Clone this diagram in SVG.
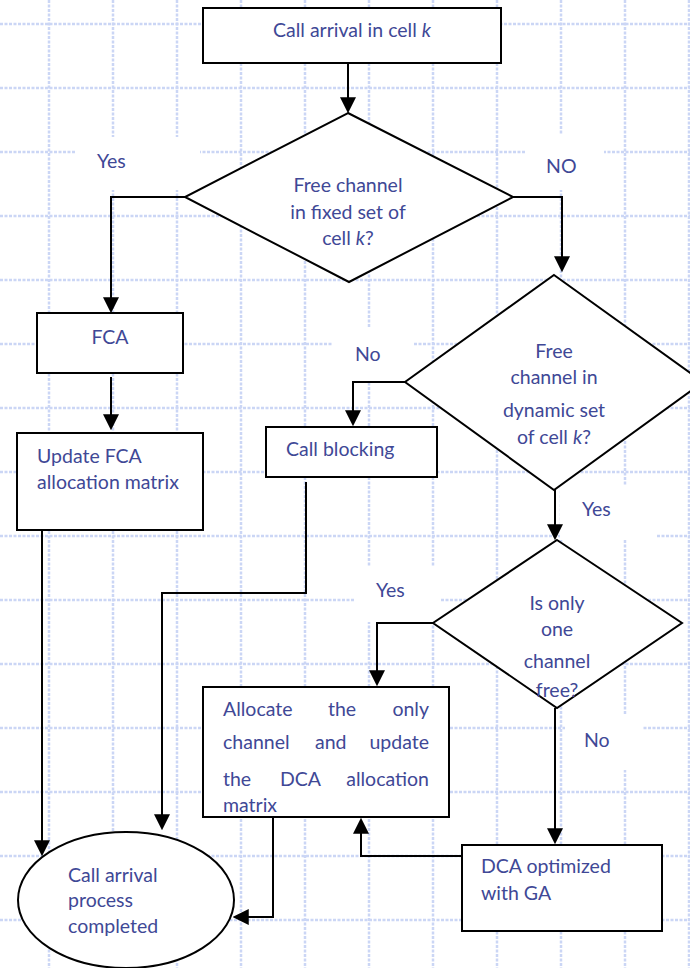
<svg xmlns="http://www.w3.org/2000/svg" width="690" height="968" viewBox="0 0 690 968">
<style>
.grid line{stroke:#cbd6f5;stroke-width:2.5;stroke-dasharray:3 1.5}
.bg{fill:#fff;stroke:none}
.shape{fill:#fff;stroke:#000;stroke-width:2}
.conn{fill:none;stroke:#000;stroke-width:2}
text{font-family:Lato,"Open Sans","Liberation Sans",sans-serif;font-size:19.5px;fill:#404896}
.c{text-anchor:middle}
.i{font-style:italic}
</style>
<defs>
<marker id="ah" markerUnits="userSpaceOnUse" markerWidth="16" markerHeight="16" viewBox="0 0 15 15" refX="11" refY="7.5" orient="auto">
<path d="M0,0 L15,7.5 L0,15 Z" fill="#000"/>
</marker>
</defs>
<rect width="690" height="968" fill="#fff"/>
<g class="grid">
<line x1="49" y1="0" x2="49" y2="968"/><line x1="113" y1="0" x2="113" y2="968"/><line x1="177" y1="0" x2="177" y2="968"/><line x1="241" y1="0" x2="241" y2="968"/><line x1="305" y1="0" x2="305" y2="968"/><line x1="369" y1="0" x2="369" y2="968"/><line x1="433" y1="0" x2="433" y2="968"/><line x1="497" y1="0" x2="497" y2="968"/><line x1="561" y1="0" x2="561" y2="968"/><line x1="625" y1="0" x2="625" y2="968"/><line x1="689" y1="0" x2="689" y2="968"/>
<line x1="0" y1="24" x2="690" y2="24"/><line x1="0" y1="88" x2="690" y2="88"/><line x1="0" y1="152" x2="690" y2="152"/><line x1="0" y1="216" x2="690" y2="216"/><line x1="0" y1="280" x2="690" y2="280"/><line x1="0" y1="344" x2="690" y2="344"/><line x1="0" y1="408" x2="690" y2="408"/><line x1="0" y1="472" x2="690" y2="472"/><line x1="0" y1="536" x2="690" y2="536"/><line x1="0" y1="600" x2="690" y2="600"/><line x1="0" y1="664" x2="690" y2="664"/><line x1="0" y1="728" x2="690" y2="728"/><line x1="0" y1="792" x2="690" y2="792"/><line x1="0" y1="856" x2="690" y2="856"/><line x1="0" y1="920" x2="690" y2="920"/>
</g>
<g id="label-bg">
<rect class="bg" x="75" y="137" width="125" height="53"/>
<rect class="bg" x="525" y="135" width="79" height="55"/>
<rect class="bg" x="333" y="328" width="80" height="54"/>
<rect class="bg" x="560" y="485" width="97" height="55"/>
<rect class="bg" x="355" y="567" width="85" height="55"/>
<rect class="bg" x="565" y="715" width="77" height="55"/>
</g>
<g id="start">
<rect class="shape" x="203" y="8" width="298" height="55"/>
<text class="c" x="352" y="37">Call arrival in cell <tspan class="i">k</tspan></text>
</g>
<g id="decision-fixed">
<polygon class="shape" points="348,113 513,197 349,282 185,197"/>
<text class="c" x="348" y="192">Free channel</text>
<text class="c" x="348" y="219">in fixed set of</text>
<text class="c" x="348" y="245">cell <tspan class="i">k</tspan>?</text>
</g>
<g id="fca">
<rect class="shape" x="37" y="313" width="146" height="60"/>
<text class="c" x="110" y="344">FCA</text>
</g>
<g id="update-fca">
<rect class="shape" x="17" y="433" width="186" height="97"/>
<text x="37" y="463">Update FCA</text>
<text x="37" y="489">allocation matrix</text>
</g>
<g id="decision-dynamic">
<polygon class="shape" points="554,275 703,382 554,490 405,382"/>
<text class="c" x="554" y="358">Free</text>
<text class="c" x="554" y="384">channel in</text>
<text class="c" x="554" y="417">dynamic set</text>
<text class="c" x="554" y="444">of cell <tspan class="i">k</tspan>?</text>
</g>
<g id="call-blocking">
<rect class="shape" x="266" y="427" width="171" height="50"/>
<text x="286" y="456">Call blocking</text>
</g>
<g id="decision-one">
<polygon class="shape" points="557,540 682,623 557,708 433,623"/>
<text class="c" x="557" y="610">Is only</text>
<text class="c" x="557" y="636">one</text>
<text class="c" x="557" y="668">channel</text>
<text class="c" x="557" y="697">free?</text>
</g>
<g id="allocate">
<rect class="shape" x="203" y="687" width="246" height="130"/>
<text x="223" y="716">Allocate</text><text x="328" y="716">the</text><text x="429" y="716" text-anchor="end">only</text>
<text x="223" y="749">channel</text><text x="315" y="749">and</text><text x="429" y="749" text-anchor="end">update</text>
<text x="223" y="786">the</text><text x="280" y="786">DCA</text><text x="429" y="786" text-anchor="end">allocation</text>
<text x="223" y="812">matrix</text>
</g>
<g id="dca-ga">
<rect class="shape" x="462" y="845" width="200" height="86"/>
<text x="481" y="873">DCA optimized</text>
<text x="481" y="900">with GA</text>
</g>
<g id="end">
<ellipse class="shape" cx="126" cy="900" rx="108" ry="68"/>
<text x="68" y="882">Call arrival</text>
<text x="68" y="907">process</text>
<text x="68" y="933">completed</text>
</g>
<g id="connectors">
<path class="conn" marker-end="url(#ah)" d="M348,63 V109"/>
<path class="conn" marker-end="url(#ah)" d="M185,197 H111 V309"/>
<path class="conn" marker-end="url(#ah)" d="M111,377 V426"/>
<path class="conn" marker-end="url(#ah)" d="M513,197 H562 V268"/>
<path class="conn" marker-end="url(#ah)" d="M405,382 H353 V422"/>
<path class="conn" marker-end="url(#ah)" d="M555,490 V536"/>
<path class="conn" marker-end="url(#ah)" d="M433,623 H377 V682"/>
<path class="conn" marker-end="url(#ah)" d="M555,708 V840"/>
<path class="conn" marker-end="url(#ah)" d="M462,856 H361 V822"/>
<path class="conn" marker-end="url(#ah)" d="M306,482 V593 H162 V826"/>
<path class="conn" marker-end="url(#ah)" d="M42,530 V852"/>
<path class="conn" marker-end="url(#ah)" d="M273,817 V917 H237"/>
</g>
<g id="labels">
<text x="97" y="168">Yes</text>
<text x="546" y="173">NO</text>
<text x="355" y="361">No</text>
<text x="582" y="516">Yes</text>
<text x="376" y="597">Yes</text>
<text x="584" y="747">No</text>
</g>
</svg>
